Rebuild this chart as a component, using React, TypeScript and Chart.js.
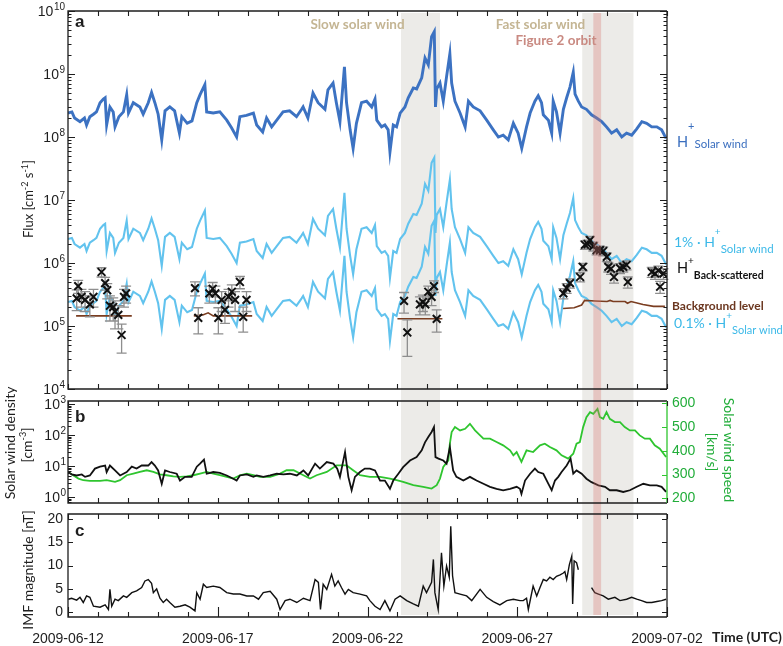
import React, { useEffect, useRef } from 'react';
import { Chart, registerables } from 'chart.js';
Chart.register(...registerables);

// ---------------- data ----------------
const dateLabels = ['2009-06-12', '2009-06-17', '2009-06-22', '2009-06-27', '2009-07-02'];

// H+ solar wind flux (days since 2009-06-12)
const swDays = [0.00,0.13,0.22,0.40,0.55,0.62,0.73,0.85,0.95,1.07,1.18,1.24,1.29,1.40,1.51,1.57,1.70,1.85,1.96,2.02,2.18,2.40,2.51,2.68,2.79,2.90,3.01,3.13,3.24,3.40,3.56,3.72,3.80,3.98,4.14,4.30,4.41,4.57,4.63,4.85,5.07,5.30,5.46,5.63,5.74,5.96,6.19,6.30,6.50,6.63,6.80,6.97,7.18,7.40,7.63,7.80,7.85,8.01,8.18,8.35,8.58,8.68,8.85,8.96,9.08,9.23,9.30,9.42,9.52,9.63,9.80,9.97,10.14,10.25,10.31,10.47,10.58,10.69,10.75,10.86,10.97,11.09,11.25,11.36,11.53,11.64,11.81,11.92,12.03,12.14,12.23,12.27,12.31,12.42,12.53,12.64,12.75,12.81,12.92,13.09,13.26,13.37,13.53,13.76,13.98,14.20,14.37,14.53,14.70,14.87,15.03,15.15,15.31,15.43,15.59,15.70,15.81,15.87,16.04,16.15,16.20,16.31,16.43,16.54,16.65,16.76,16.87,16.93,17.04,17.15,17.31,17.48,17.65,17.82,17.98,18.15,18.32,18.49,18.65,18.82,18.99,19.16,19.32,19.49,19.66,19.82,19.97];
const swFlux = [2.4e8,2.5e8,2.0e8,1.75e8,2.0e8,1.55e8,2.1e8,2.3e8,2.5e8,3.5e8,4.0e8,4.2e8,1.55e8,3.0e8,2.5e8,1.45e8,2.1e8,2.5e8,4.7e8,2.4e8,3.5e8,3.0e8,2.3e8,3.5e8,5.1e8,3.5e8,2.3e8,0.9e8,2.6e8,3.0e8,2.6e8,1.15e8,2.1e8,1.65e8,1.8e8,3.5e8,4.7e8,6.8e8,2.5e8,2.4e8,2.5e8,1.85e8,1.4e8,1.0e8,2.1e8,2.2e8,2.4e8,1.55e8,1.2e8,2.0e8,1.45e8,1.85e8,2.5e8,2.6e8,2.1e8,2.75e8,3.0e8,2.0e8,5.0e8,3.5e8,2.75e8,5.6e8,7.2e8,3.5e8,1.75e8,1.3e9,3.5e8,1.3e8,6.6e7,1.65e8,3.5e8,3.7e8,3.0e8,4.0e8,1.85e8,1.45e8,1.55e8,1.3e8,5.8e7,1.55e8,1.45e8,2.4e8,3.0e8,4.2e8,6.0e8,5.8e8,8.7e8,1.8e9,1.4e9,3.9e9,4.7e9,3.0e8,5.8e8,7.2e8,3.7e8,9.1e8,2.1e9,7.2e8,3.7e8,2.4e8,1.45e8,3.7e8,3.0e8,2.6e8,1.85e8,1.3e8,1.0e8,1.07e8,0.9e8,1.65e8,1.15e8,6.6e7,1.45e8,2.4e8,3.7e8,4.5e8,3.5e8,2.25e8,1.85e8,1.15e8,3.7e8,2.5e8,1.15e8,2.75e8,4.2e8,6.2e8,1.07e9,4.8e8,3.7e8,3.0e8,2.75e8,2.25e8,2.0e8,1.75e8,1.45e8,1.15e8,1.3e8,1.0e8,1.15e8,1.07e8,1.35e8,1.75e8,1.65e8,1.45e8,1.45e8,1.3e8,0.95e8];
const pct1 = 0.01;   // "1% · H+ Solar wind"
const pct01 = 0.001; // "0.1% · H+ Solar wind"

// Background level (null = gap)
const bgDays = [0.27,2.13,2.14,4.2,4.5,4.68,4.85,6.15,6.16,11.0,12.5,12.51,16.53,16.9,17.15,17.25,17.6,18.0,18.1,18.2,18.6,18.68,18.8,19.2,19.55,19.93];
const bgFlux = [1.45e5,1.45e5,null,1.45e5,1.5e5,1.62e5,1.45e5,1.45e5,null,1.3e5,1.3e5,null,1.9e5,1.95e5,2.15e5,2.55e5,2.5e5,2.45e5,2.55e5,2.45e5,2.45e5,2.3e5,2.45e5,2.2e5,2.05e5,2.05e5];

// H+ back-scattered with 1-sigma errors
const bsDays = [0.29,0.34,0.45,0.57,0.73,0.85,1.12,1.24,1.31,1.40,1.51,1.57,1.68,1.79,1.87,1.94,4.24,4.35,4.72,4.83,4.92,5.02,5.13,5.24,5.36,5.47,5.58,5.74,5.85,5.96,11.22,11.33,11.75,11.85,11.93,12.03,12.14,12.22,12.31,16.54,16.65,16.76,17.10,17.19,17.26,17.35,17.43,17.54,17.65,17.76,17.87,17.99,18.04,18.13,18.23,18.43,18.54,18.65,18.69,19.49,19.60,19.71,19.77,19.88];
const bsFlux = [2.75e5,4.3e5,2.9e5,2.6e5,2.2e5,2.9e5,7.2e5,4.8e5,3.7e5,2.1e5,2.0e5,1.7e5,1.5e5,7.2e4,2.9e5,3.3e5,4.0e5,1.35e5,3.3e5,3.9e5,3.3e5,1.35e5,2.6e5,1.8e5,2.9e5,3.5e5,2.6e5,5.0e5,1.4e5,2.6e5,2.5e5,7.9e4,2.2e5,2.4e5,2.2e5,3.5e5,2.9e5,4.3e5,1.3e5,3.3e5,4.0e5,4.8e5,6.0e5,8.7e5,1.95e6,2.0e6,2.3e6,1.85e6,1.6e6,1.6e6,1.55e6,1.25e6,8.7e5,8.1e5,6.0e5,8.3e5,8.7e5,9.3e5,5.0e5,7.2e5,6.8e5,7.6e5,4.2e5,6.8e5];
const bsErr = [1.0e5,1.0e5,0.9e5,0.9e5,0.8e5,0.9e5,1.2e5,1.1e5,1.0e5,0.9e5,0.8e5,0.8e5,0.6e5,3.5e4,0.9e5,1.0e5,1.0e5,0.6e5,1.0e5,1.0e5,1.0e5,0.6e5,0.9e5,0.7e5,0.9e5,1.0e5,0.9e5,1.1e5,0.6e5,0.9e5,0.9e5,4.6e4,0.7e5,0.7e5,0.7e5,0.8e5,0.8e5,0.9e5,0.5e5,0.6e5,0.7e5,0.8e5,1.0e5,1.2e5,3e5,3e5,3.5e5,3e5,2.5e5,2.5e5,2.5e5,2e5,1.5e5,1.5e5,1.2e5,1.5e5,1.5e5,1.5e5,1.0e5,1.3e5,1.3e5,1.3e5,0.9e5,1.3e5];

// Solar wind density [cm^-3]
const denDays = [0.01,0.12,0.29,0.46,0.57,0.73,0.90,1.07,1.24,1.29,1.40,1.57,1.74,1.96,2.13,2.29,2.46,2.68,2.79,2.90,3.01,3.13,3.24,3.40,3.63,3.74,3.91,4.13,4.30,4.41,4.54,4.63,4.85,5.07,5.30,5.52,5.63,5.74,5.97,6.19,6.30,6.52,6.75,6.97,7.19,7.41,7.64,7.86,8.02,8.25,8.41,8.64,8.86,8.99,9.08,9.25,9.36,9.47,9.58,9.75,9.91,10.08,10.25,10.42,10.58,10.75,10.86,11.03,11.19,11.42,11.64,11.81,11.92,12.03,12.14,12.22,12.27,12.37,12.53,12.64,12.75,12.86,12.97,13.20,13.42,13.64,13.87,14.09,14.31,14.53,14.76,14.98,15.09,15.14,15.26,15.43,15.59,15.70,15.87,16.04,16.15,16.26,16.37,16.48,16.65,16.78,16.87,16.98,17.15,17.31,17.48,17.71,17.93,18.09,18.32,18.54,18.76,18.99,19.21,19.43,19.66,19.82,19.97];
const denVals = [6.6,5.5,5.1,5.5,4.6,5.1,8.5,9.8,10.7,6.6,10.7,7.4,5.1,6.6,9.8,8.5,10.7,10.7,13.8,10.7,7.4,2.75,7.4,6.6,5.8,3.5,4.6,4.6,9.8,12.3,16.6,5.8,6.6,6.2,5.1,4.0,3.5,5.1,5.5,4.6,5.1,4.6,5.1,5.8,5.5,5.8,5.1,7.4,5.1,12.3,8.5,13.8,12.3,8.5,4.6,29,4.6,1.7,4.6,6.6,8.5,8.5,7.4,3.5,3.5,1.9,3.5,5.8,9.5,15.5,20,33,60,89,129,186,20,17.8,15.5,12.3,42,7.4,4.6,3.5,4.6,3.5,2.75,2.2,1.9,1.7,1.9,2.2,1.9,1.3,3.5,5.8,8.5,6.6,5.8,2.75,1.7,3.5,4.6,6.6,10.7,17.8,5.8,7.4,5.8,4.0,3.1,2.45,2.2,1.7,1.7,1.5,1.7,2.2,2.75,2.45,2.45,2.2,1.5];

// Solar wind speed [km/s]
const spdDays = [0.01,0.17,0.35,0.51,0.73,1.07,1.29,1.57,1.74,1.96,2.18,2.40,2.63,2.85,3.07,3.29,3.52,3.74,3.96,4.19,4.41,4.63,4.85,5.07,5.30,5.52,5.74,5.97,6.19,6.41,6.75,7.08,7.30,7.53,7.86,8.08,8.30,8.64,8.97,9.30,9.52,9.75,10.08,10.42,10.75,10.97,11.19,11.53,11.86,12.14,12.31,12.42,12.53,12.70,12.75,12.81,12.92,13.09,13.26,13.42,13.59,13.76,13.87,14.09,14.31,14.53,14.76,14.87,14.98,15.14,15.31,15.53,15.76,15.92,16.09,16.31,16.48,16.70,16.87,16.98,17.09,17.20,17.31,17.43,17.54,17.68,17.76,17.87,17.98,18.09,18.26,18.43,18.59,18.76,18.93,19.09,19.26,19.43,19.59,19.76,19.97];
const spdVals = [311,297,283,276,273,273,276,269,276,297,304,311,318,311,301,297,292,290,292,297,304,311,304,297,290,283,297,304,297,290,290,304,318,318,297,283,297,311,339,339,318,297,290,290,283,276,269,255,248,241,255,283,332,360,430,479,500,486,493,514,486,465,451,451,437,423,402,381,395,353,402,395,423,430,416,402,381,367,388,430,437,500,542,563,556,577,542,535,563,535,521,521,500,486,486,465,451,451,423,409,374];

// IMF magnitude [nT] (null = data gap)
const imfDays = [0.01,0.12,0.29,0.40,0.51,0.62,0.73,0.85,1.07,1.24,1.35,1.40,1.46,1.57,1.68,1.85,1.96,2.13,2.29,2.46,2.57,2.68,2.79,2.85,2.96,3.07,3.18,3.29,3.40,3.57,3.74,3.91,4.07,4.24,4.30,4.41,4.52,4.63,4.85,5.07,5.30,5.52,5.74,5.97,6.19,6.36,6.52,6.75,6.97,7.08,7.25,7.41,7.64,7.86,8.08,8.25,8.36,8.43,8.52,8.64,8.80,8.91,9.02,9.13,9.25,9.36,9.52,9.75,9.97,10.08,10.25,10.42,10.58,10.75,10.92,11.09,11.31,11.53,11.70,11.86,11.97,12.14,12.20,12.25,12.36,12.47,12.55,12.64,12.73,12.78,12.84,12.92,13.09,13.31,13.48,13.76,13.98,14.20,14.42,14.65,14.87,15.09,15.20,15.31,15.37,15.53,15.65,15.76,15.87,15.98,16.09,16.20,16.31,16.43,16.54,16.59,16.65,16.74,16.82,16.85,16.90,16.98,17.04,17.25,17.48,17.59,17.71,17.87,18.04,18.26,18.43,18.65,18.82,18.99,19.15,19.32,19.49,19.66,19.82,19.97];
const imfVals = [2.8,3.0,2.6,3.2,2.1,3.5,3.2,1.3,1.1,1.6,0.6,4.9,1.3,2.8,2.5,3.5,3.2,4.2,4.6,5.3,6.7,7.0,6.2,4.2,5.0,3.0,2.1,2.8,2.1,1.1,1.3,1.6,1.1,0.3,4.2,2.8,6.0,5.3,5.6,5.3,4.2,3.9,3.9,3.5,3.5,2.8,4.2,4.5,2.8,0.6,2.5,2.8,2.1,3.0,2.5,7.0,6.4,0.6,6.0,4.9,8.1,5.6,6.7,5.3,3.9,4.9,4.2,3.9,3.5,2.5,1.3,0.6,2.5,0.3,2.8,3.5,2.5,1.8,1.3,5.6,4.2,6.4,11.3,4.2,0.6,12.7,5.6,9.9,7.5,18.4,7.8,4.2,3.9,3.5,2.5,4.9,3.2,2.3,1.6,2.5,2.8,2.5,2.5,3.0,0.6,5.6,3.5,5.3,7.0,6.7,7.5,7.0,7.7,8.0,8.4,8.7,7.0,10.2,12.0,1.8,11.0,10.6,9.1,null,5.3,4.2,3.9,3.5,2.8,3.2,2.5,2.8,3.2,2.8,2.5,2.1,2.1,2.3,2.5,2.8];

// Shaded intervals (days)
const slowBand = [11.12, 12.42];
const fastBand = [17.17, 18.88];
const orbitBand = [17.54, 17.80];

// ---------------- styling / layout ----------------
const W = 783, H = 646;
const FT = '"Liberation Sans", Arial, sans-serif';
const FA = 'Lato, "Open Sans", sans-serif';
const AX = '#1e1e1e';
const C_DARK = '#3c72c2';
const C_LIGHT = '#62c3ee';
const C_GREEN = '#2fc52f';
const C_GREEN_T = '#22ad3a';
const C_BROWN = '#7a3d20';
const C_BAND = '#ecebe8';
const C_PINK = 'rgba(214,118,112,0.32)';

type Seg = { t: string; size: number; bold?: boolean; dy?: number; fam?: string };
const segFont = (s: Seg) => `${s.bold ? 'bold ' : ''}${s.size}px ${s.fam || FA}`;
function segsWidth(ctx: CanvasRenderingContext2D, segs: Seg[]) {
  let w = 0;
  for (const s of segs) { ctx.font = segFont(s); w += ctx.measureText(s.t).width; }
  return w;
}
function drawSegs(ctx: CanvasRenderingContext2D, segs: Seg[], x: number, y: number, color: string, align: 'left' | 'center' = 'left') {
  ctx.save();
  ctx.fillStyle = color; ctx.textAlign = 'left'; ctx.textBaseline = 'alphabetic';
  let cx = align === 'center' ? x - segsWidth(ctx, segs) / 2 : x;
  for (const s of segs) {
    ctx.font = segFont(s);
    ctx.fillText(s.t, cx, y + (s.dy || 0));
    cx += ctx.measureText(s.t).width;
  }
  ctx.restore();
}
function drawRot(ctx: CanvasRenderingContext2D, segs: Seg[], x: number, y: number, angle: number, color: string) {
  ctx.save(); ctx.translate(x, y); ctx.rotate(angle);
  drawSegs(ctx, segs, 0, 0, color, 'center');
  ctx.restore();
}
function pow10Label(ctx: CanvasRenderingContext2D, xr: number, y: number, exp: number) {
  ctx.save();
  ctx.fillStyle = AX; ctx.textAlign = 'right'; ctx.textBaseline = 'alphabetic';
  const e = String(exp);
  ctx.font = `10px ${FT}`; ctx.fillText(e, xr, y - 1);
  const ew = ctx.measureText(e).width;
  ctx.font = `14px ${FT}`; ctx.fillText('10', xr - ew - 0.5, y + 5);
  ctx.restore();
}
function bands(c: any, y0: number, y1: number) {
  const xs = c.scales.x, ctx = c.ctx;
  ctx.save(); ctx.fillStyle = C_BAND;
  for (const b of [slowBand, fastBand]) {
    const p0 = xs.getPixelForValue(b[0]), p1 = xs.getPixelForValue(b[1]);
    ctx.fillRect(p0, y0, p1 - p0, y1 - y0);
  }
  ctx.restore();
}
function orbit(c: any, y0: number, y1: number) {
  const xs = c.scales.x, ctx = c.ctx;
  const p0 = xs.getPixelForValue(orbitBand[0]), p1 = xs.getPixelForValue(orbitBand[1]);
  ctx.save(); ctx.fillStyle = C_PINK; ctx.fillRect(p0, y0, p1 - p0, y1 - y0); ctx.restore();
}
function xTicks(c: any, bigBottom: boolean) {
  const { ctx, chartArea: { top, bottom } } = c; const xs = c.scales.x;
  ctx.save(); ctx.strokeStyle = AX; ctx.lineWidth = 1.1; ctx.beginPath();
  for (let d = 0; d <= 20; d++) {
    const px = Math.round(xs.getPixelForValue(d)) + 0.5;
    ctx.moveTo(px, top); ctx.lineTo(px, top + 5);
    ctx.moveTo(px, bottom); ctx.lineTo(px, bottom - (bigBottom && d % 5 === 0 ? 10 : 5));
  }
  ctx.stroke(); ctx.restore();
}
function logTicks(c: any, scale: any, kMin: number, kMax: number, sides: ('l' | 'r')[]) {
  const { ctx, chartArea: { left, right, top, bottom } } = c;
  ctx.save(); ctx.strokeStyle = AX; ctx.lineWidth = 1.1; ctx.beginPath();
  for (let k = kMin; k <= kMax; k++) for (let m = 1; m <= 9; m++) {
    const v = m * Math.pow(10, k);
    const py = Math.round(scale.getPixelForValue(v)) + 0.5;
    if (py < top - 0.5 || py > bottom + 0.5) continue;
    const L = m === 1 ? 7 : 3.5;
    if (sides.includes('l')) { ctx.moveTo(left, py); ctx.lineTo(left + L, py); }
    if (sides.includes('r')) { ctx.moveTo(right, py); ctx.lineTo(right - L, py); }
  }
  ctx.stroke(); ctx.restore();
}
function linTicks(c: any, scale: any, vals: number[], color: string, side: 'l' | 'r') {
  const { ctx, chartArea: { left, right } } = c;
  ctx.save(); ctx.strokeStyle = color; ctx.lineWidth = 1.1; ctx.beginPath();
  for (const v of vals) {
    const py = Math.round(scale.getPixelForValue(v)) + 0.5;
    if (side === 'l') { ctx.moveTo(left, py); ctx.lineTo(left + 5, py); }
    else { ctx.moveTo(right, py); ctx.lineTo(right - 5, py); }
  }
  ctx.stroke(); ctx.restore();
}
function frame(c: any, rightColor = AX) {
  const { ctx, chartArea: { left, right, top, bottom } } = c;
  ctx.save(); ctx.lineWidth = 1.3; ctx.strokeStyle = AX;
  ctx.beginPath(); ctx.moveTo(right, top); ctx.lineTo(left, top); ctx.lineTo(left, bottom); ctx.lineTo(right, bottom); ctx.stroke();
  ctx.strokeStyle = rightColor; ctx.beginPath(); ctx.moveTo(right, top); ctx.lineTo(right, bottom); ctx.stroke();
  ctx.restore();
}
function panelLetter(ctx: CanvasRenderingContext2D, t: string, x: number, y: number) {
  ctx.save(); ctx.fillStyle = AX; ctx.font = `bold 17px ${FT}`; ctx.textAlign = 'left'; ctx.textBaseline = 'alphabetic';
  ctx.fillText(t, x, y); ctx.restore();
}

const pts = (xs: number[], ys: (number | null)[]) => xs.map((x, i) => ({ x, y: ys[i] }));
const lineDs = (data: any[], color: string, width: number, order: number) => ({
  data, borderColor: color, borderWidth: width, pointRadius: 0, pointHitRadius: 0, order, spanGaps: false, tension: 0,
  borderJoinStyle: 'miter',
});
const baseOpts = (padding: any, scales: any) => ({
  animation: false, responsive: false, devicePixelRatio: 1, events: [],
  layout: { padding },
  plugins: { legend: { display: false }, tooltip: { enabled: false } },
  scales,
});
const xHidden = { type: 'linear', min: 0, max: 20, display: false };

// ---------- panel a ----------
const pluginA = {
  id: 'panelA',
  beforeDatasetsDraw(c: any) { bands(c, c.chartArea.top + 2, 401); },
  beforeDatasetDraw(c: any, args: any) {
    if (args.index !== 0) return;
    const ctx = c.ctx, xs = c.scales.x, ys = c.scales.y;
    ctx.save(); ctx.strokeStyle = '#8e8e8e'; ctx.lineWidth = 1.3; ctx.beginPath();
    bsDays.forEach((d, i) => {
      const px = xs.getPixelForValue(d);
      const hi = ys.getPixelForValue(bsFlux[i] + bsErr[i]);
      const lo = ys.getPixelForValue(Math.max(bsFlux[i] - bsErr[i], 1e4));
      ctx.moveTo(px, hi); ctx.lineTo(px, lo);
      ctx.moveTo(px - 5, hi); ctx.lineTo(px + 5, hi);
      ctx.moveTo(px - 5, lo); ctx.lineTo(px + 5, lo);
    });
    ctx.stroke(); ctx.restore();
  },
  afterDatasetsDraw(c: any) { orbit(c, c.chartArea.top + 2, 401); },
  afterDraw(c: any) {
    const ctx = c.ctx, ys = c.scales.y;
    frame(c); xTicks(c, false); logTicks(c, ys, 4, 10, ['l', 'r']);
    for (let k = 4; k <= 10; k++) pow10Label(ctx, 65, ys.getPixelForValue(Math.pow(10, k)), k);
    panelLetter(ctx, 'a', 75, 27);
    drawRot(ctx, [{ t: 'Flux [cm', size: 13 }, { t: '-2', size: 9, dy: -5 }, { t: ' s', size: 13 }, { t: '-1', size: 9, dy: -5 }, { t: ']', size: 13 }], 33, 199, -Math.PI / 2, AX);
    drawSegs(ctx, [{ t: 'Slow solar wind', size: 13.5, bold: true }], 357.5, 28.5, '#c4b593', 'center');
    drawSegs(ctx, [{ t: 'Fast solar wind', size: 13.5, bold: true }], 540.5, 28.5, '#c4b593', 'center');
    drawSegs(ctx, [{ t: 'Figure 2 orbit', size: 13.5, bold: true }], 556, 44.5, '#c98a82', 'center');
    drawSegs(ctx, [{ t: 'H', size: 14.5 }, { t: '+', size: 11, dy: -17 }, { t: 'Solar wind', size: 11.5, dy: 1.5 }], 677, 146.5, '#3b6fbf');
    drawSegs(ctx, [{ t: '1% \u00b7 H', size: 14 }, { t: '+', size: 10, dy: -12 }, { t: 'Solar wind', size: 11.5, dy: 6 }], 674, 246.5, '#3cb9e8');
    drawSegs(ctx, [{ t: 'H', size: 14.5 }, { t: '+', size: 10, dy: -9 }, { t: 'Back-scattered', size: 10.5, bold: true, dy: 6 }], 677, 273, '#111');
    drawSegs(ctx, [{ t: 'Background level', size: 12, bold: true }], 672, 310, '#6b3720');
    drawSegs(ctx, [{ t: '0.1% \u00b7 H', size: 14 }, { t: '+', size: 10, dy: -9 }, { t: 'Solar wind', size: 11, dy: 6 }], 674, 328, '#3cb9e8');
  },
};
const cfgA = () => ({
  type: 'line',
  data: {
    datasets: [
      { data: pts(bsDays, bsFlux), showLine: false, pointStyle: 'crossRot', pointRadius: 5.5, pointBorderWidth: 2, borderColor: '#111', backgroundColor: '#111', order: 0 },
      lineDs(pts(bgDays, bgFlux), C_BROWN, 1.6, 1),
      lineDs(pts(swDays, swFlux), C_DARK, 2.9, 2),
      lineDs(pts(swDays, swFlux.map((v) => v * pct1)), C_LIGHT, 2.1, 3),
      lineDs(pts(swDays, swFlux.map((v) => v * pct01)), C_LIGHT, 2.1, 4),
    ],
  },
  options: baseOpts({ left: 68, right: 116, top: 11, bottom: 257 }, {
    x: xHidden,
    y: { type: 'logarithmic', min: 1e4, max: 1e10, display: false },
  }),
  plugins: [pluginA],
});

// ---------- panel b ----------
const pluginB = {
  id: 'panelB',
  beforeDatasetsDraw(c: any) { bands(c, c.chartArea.top, 514); },
  afterDatasetsDraw(c: any) { orbit(c, c.chartArea.top, 514); },
  afterDraw(c: any) {
    const ctx = c.ctx, ys = c.scales.y, ys2 = c.scales.y2;
    frame(c, C_GREEN); xTicks(c, false); logTicks(c, ys, -1, 3, ['l']);
    linTicks(c, ys2, [200, 300, 400, 500, 600], C_GREEN, 'r');
    for (let k = 0; k <= 3; k++) pow10Label(ctx, 66, ys.getPixelForValue(Math.pow(10, k)), k);
    panelLetter(ctx, 'b', 75, 422);
    drawRot(ctx, [{ t: 'Solar wind density', size: 14 }], 15, 443, -Math.PI / 2, AX);
    drawRot(ctx, [{ t: '[cm', size: 14 }, { t: '-3', size: 9, dy: -6 }, { t: ']', size: 14 }], 32, 445, -Math.PI / 2, AX);
    drawRot(ctx, [{ t: 'Solar wind speed', size: 14 }], 724, 450, Math.PI / 2, C_GREEN_T);
    drawRot(ctx, [{ t: '[km/s]', size: 14 }], 707, 452, Math.PI / 2, C_GREEN_T);
  },
};
const cfgB = () => ({
  type: 'line',
  data: {
    datasets: [
      { ...lineDs(pts(denDays, denVals), '#111', 1.8, 0), yAxisID: 'y' },
      { ...lineDs(pts(spdDays, spdVals), C_GREEN, 1.8, 1), yAxisID: 'y2' },
    ],
  },
  options: baseOpts({ left: 68, right: 0, top: 401, bottom: 143 }, {
    x: xHidden,
    y: { type: 'logarithmic', min: 0.66, max: 1290, display: false },
    y2: {
      type: 'linear', position: 'right', min: 180, max: 610,
      grid: { display: false, drawTicks: false }, border: { display: false },
      ticks: { stepSize: 100, includeBounds: false, color: C_GREEN_T, font: { family: FT, size: 14 }, padding: 5 },
      afterFit(s: any) { s.width = 116; },
    },
  }),
  plugins: [pluginB],
});

// ---------- panel c ----------
const pluginC = {
  id: 'panelC',
  beforeDatasetsDraw(c: any) { bands(c, c.chartArea.top, c.chartArea.bottom - 2); },
  afterDatasetsDraw(c: any) { orbit(c, c.chartArea.top, c.chartArea.bottom - 2); },
  afterDraw(c: any) {
    const ctx = c.ctx, ys = c.scales.y;
    frame(c); xTicks(c, true);
    linTicks(c, ys, [0, 5, 10, 15, 20], AX, 'l');
    linTicks(c, ys, [0, 5, 10, 15, 20], AX, 'r');
    panelLetter(ctx, 'c', 75, 536);
    drawRot(ctx, [{ t: 'IMF magnitude [nT]', size: 14 }], 33, 570, -Math.PI / 2, AX);
    drawSegs(ctx, [{ t: 'Time (UTC)', size: 14, bold: true }], 747, 642, AX, 'center');
  },
};
const cfgC = () => ({
  type: 'line',
  data: { datasets: [lineDs(pts(imfDays, imfVals), '#111', 1.4, 0)] },
  options: baseOpts({ left: 0, right: 116, top: 514, bottom: 0 }, {
    x: {
      type: 'linear', min: 0, max: 20, position: 'bottom',
      grid: { display: false, drawTicks: false }, border: { display: false },
      ticks: { stepSize: 5, autoSkip: false, maxRotation: 0, padding: 14, color: AX, font: { family: FT, size: 14 },
        callback: (v: number) => (v % 5 === 0 ? dateLabels[v / 5] : '') },
      afterFit(s: any) { s.height = 29; },
    },
    y: {
      type: 'linear', min: -1, max: 21,
      grid: { display: false, drawTicks: false }, border: { display: false },
      ticks: { stepSize: 5, includeBounds: false, color: AX, font: { family: FT, size: 14 }, padding: 5 },
      afterFit(s: any) { s.width = 68; },
    },
  }),
  plugins: [pluginC],
});

export default function App() {
  const ra = useRef<HTMLCanvasElement>(null);
  const rb = useRef<HTMLCanvasElement>(null);
  const rc = useRef<HTMLCanvasElement>(null);
  useEffect(() => {
    const charts = [
      new Chart(ra.current as HTMLCanvasElement, cfgA() as any),
      new Chart(rb.current as HTMLCanvasElement, cfgB() as any),
      new Chart(rc.current as HTMLCanvasElement, cfgC() as any),
    ];
    return () => charts.forEach((ch) => ch.destroy());
  }, []);
  const st: React.CSSProperties = { position: 'absolute', left: 0, top: 0, width: W, height: H };
  return (
    <div style={{ position: 'absolute', left: 0, top: 0, width: W, height: H, background: '#fff' }}>
      <canvas ref={ra} width={W} height={H} style={st} />
      <canvas ref={rb} width={W} height={H} style={st} />
      <canvas ref={rc} width={W} height={H} style={st} />
    </div>
  );
}
